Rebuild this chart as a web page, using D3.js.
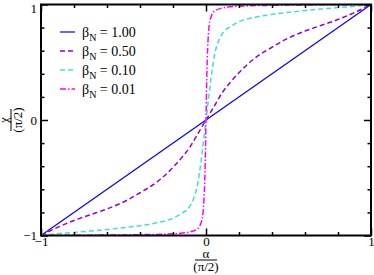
<!DOCTYPE html>
<html>
<head>
<meta charset="utf-8">
<script src="https://cdn.jsdelivr.net/npm/d3@7"></script>
<style>
  body { margin: 0; background: #fff; }
  text { font-family: "Liberation Serif", "Times New Roman", serif; fill: #000; }
</style>
</head>
<body>
<script>
//data
var betaLabels = ["1.00", "0.50", "0.10", "0.01"];
var colors = ["#0000ff", "#9400d3", "#40e0d0", "#ff00ff"];

var alpha100 = [-1, 1];
var chi100 = [-1, 1];

var alpha050 = [-1, -0.9, -0.8, -0.7, -0.6, -0.5, -0.4, -0.3, -0.2, -0.15, -0.1, -0.05, 0,
                0.05, 0.1, 0.15, 0.2, 0.3, 0.4, 0.5, 0.6, 0.7, 0.8, 0.9, 1];
var chi050 = [-1, -0.93, -0.87, -0.82, -0.77, -0.71, -0.63, -0.54, -0.41, -0.33, -0.24, -0.12, 0,
              0.12, 0.24, 0.33, 0.41, 0.54, 0.63, 0.71, 0.77, 0.82, 0.87, 0.93, 1];

var alpha010 = [-1, -0.9, -0.8, -0.7, -0.6, -0.5, -0.4, -0.3, -0.2, -0.15, -0.1, -0.07, -0.05, -0.04, -0.03, -0.02, -0.01, 0,
                0.01, 0.02, 0.03, 0.04, 0.05, 0.07, 0.1, 0.15, 0.2, 0.3, 0.4, 0.5, 0.6, 0.7, 0.8, 0.9, 1];
var chi010 = [-1, -0.985, -0.973, -0.962, -0.948, -0.932, -0.915, -0.89, -0.85, -0.81, -0.75, -0.66, -0.55, -0.46, -0.36, -0.24, -0.12, 0,
              0.12, 0.24, 0.36, 0.46, 0.55, 0.66, 0.75, 0.81, 0.85, 0.89, 0.915, 0.932, 0.948, 0.962, 0.973, 0.985, 1];

var alpha001 = [-1, -0.7, -0.4, -0.2, -0.1, -0.05, -0.03, -0.02, -0.015, -0.01, -0.006, -0.003, 0,
                0.003, 0.006, 0.01, 0.015, 0.02, 0.03, 0.05, 0.1, 0.2, 0.4, 0.7, 1];
var chi001 = [-1, -0.997, -0.993, -0.985, -0.97, -0.94, -0.89, -0.83, -0.75, -0.62, -0.45, -0.25, 0,
              0.25, 0.45, 0.62, 0.75, 0.83, 0.89, 0.94, 0.97, 0.985, 0.993, 0.997, 1];

var majorTicks = [-1, 0, 1];
var minorTicks = [-0.8, -0.6, -0.4, -0.2, 0.2, 0.4, 0.6, 0.8];

var series = [
  {x: alpha100, y: chi100, dash: null, w: 1.2},
  {x: alpha050, y: chi050, dash: "5,3", w: 1.5},
  {x: alpha010, y: chi010, dash: "5,3", w: 1.5},
  {x: alpha001, y: chi001, dash: "6,2,1.5,2", w: 1.5}
];

var W = 374, H = 275;
var box = {left: 41, right: 371, top: 4.5, bottom: 235.5};
var serif = "'Liberation Serif', 'Times New Roman', serif";

var xScale = d3.scaleLinear().domain([-1, 1]).range([box.left, box.right]);
var yScale = d3.scaleLinear().domain([-1, 1]).range([box.bottom, box.top]);

var svg = d3.select("body").append("svg")
            .attr("width", W)
            .attr("height", H)
            .attr("font-family", serif);

svg.append("defs").append("clipPath").attr("id", "clip")
   .append("rect")
   .attr("x", box.left).attr("y", box.top)
   .attr("width", box.right - box.left).attr("height", box.bottom - box.top);

//curves
var line = d3.line()
             .x(function(d){ return xScale(d[0]); })
             .y(function(d){ return yScale(d[1]); })
             .curve(d3.curveMonotoneX);

var plot = svg.append("g").attr("clip-path", "url(#clip)");

series.forEach(function(s, i){
  var pts = s.x.map(function(v, j){ return [v, s.y[j]]; });
  plot.append("path")
      .attr("d", line(pts))
      .attr("fill", "none")
      .attr("stroke", colors[i])
      .attr("stroke-width", s.w)
      .attr("stroke-dasharray", s.dash);
});

//axes: inward ticks on all four sides
function addAxis(axisFn, scale, transform, values, size, labels){
  var a = axisFn(scale)
            .tickValues(values)
            .tickSize(-size)
            .tickPadding(size + 3)
            .tickFormat(labels ? d3.format("d") : "");
  var g = svg.append("g").attr("transform", transform).call(a);
  g.attr("font-family", serif);
  g.select(".domain").remove();
  g.selectAll(".tick line").attr("stroke", "#000").attr("stroke-width", 1.5);
  g.selectAll("text").style("font-size", "13px").attr("fill", "#000");
  return g;
}

addAxis(d3.axisBottom, xScale, "translate(0," + box.bottom + ")", minorTicks, 3.5, false);
addAxis(d3.axisBottom, xScale, "translate(0," + box.bottom + ")", majorTicks, 7, true)
  .selectAll("text").attr("dy", "0.71em").attr("y", 1.5);
addAxis(d3.axisTop, xScale, "translate(0," + box.top + ")", minorTicks, 3.5, false);
addAxis(d3.axisTop, xScale, "translate(0," + box.top + ")", majorTicks, 7, false);
addAxis(d3.axisLeft, yScale, "translate(" + box.left + ",0)", minorTicks, 3.5, false);
var yMajor = addAxis(d3.axisLeft, yScale, "translate(" + box.left + ",0)", majorTicks, 7, true);
yMajor.selectAll("text").attr("x", -4);
//top label sits just below the canvas edge, as in the original
yMajor.selectAll("text").filter(function(d){ return d === 1; }).attr("dy", "0.62em");
addAxis(d3.axisRight, yScale, "translate(" + box.right + ",0)", minorTicks, 3.5, false);
addAxis(d3.axisRight, yScale, "translate(" + box.right + ",0)", majorTicks, 7, false);

//frame
svg.append("rect")
   .attr("x", box.left).attr("y", box.top)
   .attr("width", box.right - box.left).attr("height", box.bottom - box.top)
   .attr("fill", "none").attr("stroke", "#000").attr("stroke-width", 2);

//x label: alpha / (pi/2)
var xl = svg.append("g").attr("transform", "translate(" + xScale(0) + ",260)");
xl.append("text").attr("text-anchor", "middle").attr("y", -2.5).style("font-size", "13px").text("α");
xl.append("line").attr("x1", -11).attr("x2", 11).attr("stroke", "#000").attr("stroke-width", 1);
xl.append("text").attr("text-anchor", "middle").attr("y", 11).style("font-size", "13px").text("(π/2)");

//y label: chi / (pi/2)
var yl = svg.append("g").attr("transform", "translate(11," + yScale(0) + ") rotate(-90)");
yl.append("text").attr("text-anchor", "middle").attr("y", -3).style("font-size", "13px").text("χ");
yl.append("line").attr("x1", -11).attr("x2", 11).attr("stroke", "#000").attr("stroke-width", 1);
yl.append("text").attr("text-anchor", "middle").attr("y", 11).style("font-size", "13px").text("(π/2)");

//legend
var legend = svg.append("g").attr("transform", "translate(60,32)");
betaLabels.forEach(function(b, i){
  var row = legend.append("g").attr("transform", "translate(0," + (i * 19) + ")");
  row.append("line")
     .attr("x1", 0).attr("x2", 15)
     .attr("stroke", colors[i])
     .attr("stroke-width", series[i].w)
     .attr("stroke-dasharray", series[i].dash);
  var t = row.append("text").attr("x", 22).attr("y", 4.5).style("font-size", "14px");
  t.append("tspan").text("β");
  t.append("tspan").attr("dy", 4).style("font-size", "10px").text("N");
  t.append("tspan").attr("dy", -4).text(" = " + b);
});
</script>
</body>
</html>
